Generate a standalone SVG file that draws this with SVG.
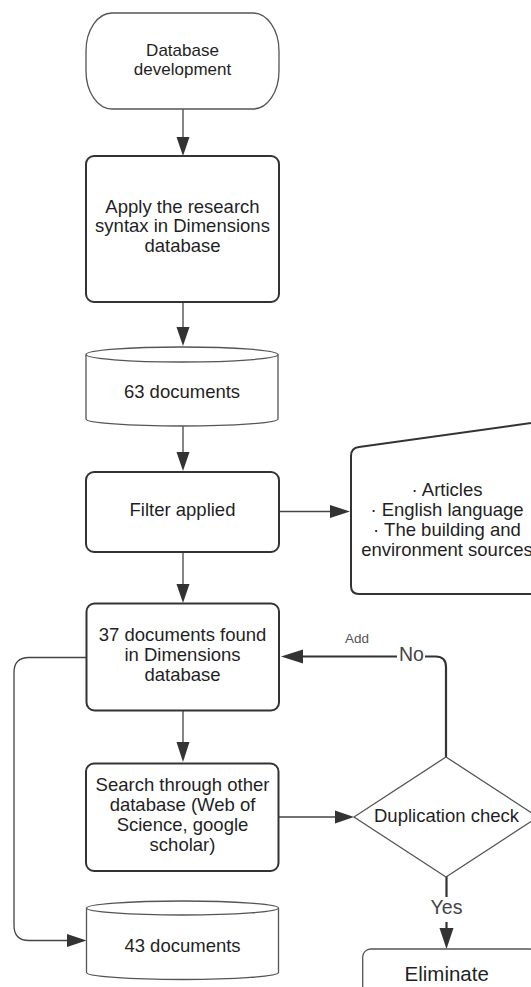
<svg xmlns="http://www.w3.org/2000/svg" width="531" height="987" viewBox="0 0 531 987">
<defs>
<style>
.bg{fill:#ffffff}
.thick{fill:#ffffff;stroke:#333333;stroke-width:2}
.thin{fill:#ffffff;stroke:#555555;stroke-width:1.3}
.t{font-family:"Liberation Sans",Arial,sans-serif;font-size:18.5px;fill:#1f1f1f;text-anchor:middle}
.lbl{font-family:"Liberation Sans",Arial,sans-serif;font-size:19.5px;fill:#444444;text-anchor:middle}
.small{font-family:"Liberation Sans",Arial,sans-serif;font-size:13.5px;fill:#555555;text-anchor:middle}
.c{fill:none;stroke:#444444;stroke-width:1.3}
.cb{fill:none;stroke:#333333;stroke-width:2.2}
.ah{fill:#333333;stroke:none}
</style>
</defs>
<rect class="bg" x="0" y="0" width="531" height="987"/>

<g id="connectors">
  <!-- terminal -> apply -->
  <line class="c" x1="183" y1="109" x2="183" y2="139"/>
  <polygon class="ah" points="176.5,137 189.5,137 183,156"/>
  <!-- apply -> 63 -->
  <line class="c" x1="183" y1="302" x2="183" y2="329"/>
  <polygon class="ah" points="176.5,327 189.5,327 183,346"/>
  <!-- 63 -> filter -->
  <line class="c" x1="183" y1="426" x2="183" y2="454"/>
  <polygon class="ah" points="176.5,452 189.5,452 183,471"/>
  <!-- filter -> criteria -->
  <line class="c" x1="279" y1="511.5" x2="332" y2="511.5"/>
  <polygon class="ah" points="330,505 330,518 350,511.5"/>
  <!-- filter -> 37 -->
  <line class="c" x1="183" y1="552" x2="183" y2="586"/>
  <polygon class="ah" points="176.5,584 189.5,584 183,603"/>
  <!-- 37 -> search -->
  <line class="c" x1="183" y1="711" x2="183" y2="744"/>
  <polygon class="ah" points="176.5,742 189.5,742 183,762"/>
  <!-- search -> duplication -->
  <line class="c" x1="279" y1="817" x2="337" y2="817"/>
  <polygon class="ah" points="335,810.5 335,823.5 354,817"/>
  <!-- 37 -> 43 loop -->
  <path class="c" d="M87,657.5 H29 Q14,657.5 14,672.5 V925.5 Q14,940.5 29,940.5 H69"/>
  <polygon class="ah" points="67,934 67,947 86.5,940.5"/>
  <!-- No loop -->
  <path class="cb" d="M446,757 V667 Q446,656.5 435.5,656.5 H425"/>
  <line class="cb" x1="397" y1="656.5" x2="301" y2="656.5"/>
  <polygon class="ah" points="303,649.5 303,663.5 281,656.5"/>
  <text class="lbl" x="411.5" y="660.7">No</text>
  <text class="small" x="357" y="642.7">Add</text>
  <!-- Yes -->
  <line class="cb" x1="446.5" y1="874" x2="446.5" y2="897"/>
  <text class="lbl" x="446.5" y="914">Yes</text>
  <line class="cb" x1="446.5" y1="922" x2="446.5" y2="930"/>
  <polygon class="ah" points="439.5,928 453.5,928 446.5,949"/>
</g>

<g id="start">
  <path class="thin" d="M112,13 H253 A26,38 0 0 1 279,51 V71 A26,38 0 0 1 253,109 H112 A26,38 0 0 1 86,71 V51 A26,38 0 0 1 112,13 Z"/>
  <text class="t" x="182.5" y="55.5" style="font-size:17px">Database</text>
  <text class="t" x="182.5" y="75" style="font-size:17px">development</text>
</g>

<g id="apply">
  <rect class="thick" x="86" y="156" width="193" height="146" rx="8"/>
  <text class="t" x="182.5" y="212.7">Apply the research</text>
  <text class="t" x="182.5" y="232.2">syntax in Dimensions</text>
  <text class="t" x="182.5" y="251.7">database</text>
</g>

<g id="docs63">
  <path class="thin" d="M86,354.5 V419 A96,7 0 0 0 278,419 V354.5"/>
  <ellipse class="thin" cx="182" cy="354.5" rx="96" ry="7.5"/>
  <text class="t" x="182" y="398">63 documents</text>
</g>

<g id="filter">
  <rect class="thick" x="86" y="472" width="193" height="80" rx="8"/>
  <text class="t" x="182.5" y="516">Filter applied</text>
</g>

<g id="criteria">
  <path class="thick" d="M359,447 L545,421 L545,594 L359,594 Q351,594 351,586 L351,456 Q351,448 359,447 Z"/>
  <text class="t" x="447" y="496">· Articles</text>
  <text class="t" x="447" y="516">· English language</text>
  <text class="t" x="447" y="536">· The building and</text>
  <text class="t" x="447" y="555.7">environment sources</text>
</g>

<g id="docs37">
  <rect class="thick" x="86.5" y="603.5" width="192.5" height="107" rx="8"/>
  <text class="t" x="182.5" y="640.8">37 documents found</text>
  <text class="t" x="182.5" y="661">in Dimensions</text>
  <text class="t" x="182.5" y="680.8">database</text>
</g>

<g id="search">
  <rect class="thick" x="86" y="763.5" width="192.5" height="107.5" rx="8"/>
  <text class="t" x="182.5" y="790.5">Search through other</text>
  <text class="t" x="182.5" y="810.8">database (Web of</text>
  <text class="t" x="182.5" y="831">Science, google</text>
  <text class="t" x="182.5" y="850.7">scholar)</text>
</g>

<g id="duplication">
  <polygon class="thin" points="354,817 446,757 538,817 446,877"/>
  <text class="t" x="446.5" y="822">Duplication check</text>
</g>

<g id="docs43">
  <path class="thin" d="M86.5,908 V972.5 A96,7 0 0 0 278.5,972.5 V908"/>
  <ellipse class="thin" cx="182.5" cy="908" rx="96" ry="7"/>
  <text class="t" x="182.5" y="952.3">43 documents</text>
</g>

<g id="eliminate">
  <rect class="thin" x="362.7" y="949" width="175" height="60" rx="8"/>
  <text class="t" x="446.7" y="980.7" style="font-size:20.5px">Eliminate</text>
</g>
</svg>
